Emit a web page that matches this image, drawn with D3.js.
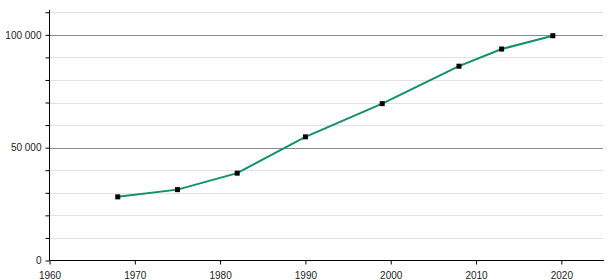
<!DOCTYPE html>
<html>
<head>
<meta charset="utf-8">
<script src="https://cdn.jsdelivr.net/npm/d3@7"></script>
<style>
  body { margin: 0; background: #fff; }
  text { font-family: "Liberation Sans", Arial, sans-serif; font-size: 10px; fill: #222; }
</style>
</head>
<body>
<div id="chart"></div>
<script>
// population figures
var years = [1968, 1975, 1982, 1990, 1999, 2008, 2013, 2019];
var population = [28200, 31400, 38700, 54800, 69500, 86100, 93700, 99600];
var xTicks = [1960, 1970, 1980, 1990, 2000, 2010, 2020];
var yLabelTicks = [0, 50000, 100000];
var yGridTicks = d3.range(10000, 110001, 10000);

var data = years.map(function(y, i) { return {year: y, pop: population[i]}; });

var W = 615, H = 280;
var plotLeft = 49.5, plotRight = 604, plotTop = 10, plotBottom = 260.5;

var svg = d3.select("#chart").append("svg")
  .attr("width", W)
  .attr("height", H);

var x = d3.scaleLinear().domain([1960, 2025]).range([plotLeft, plotRight]);
var y = d3.scaleLinear().domain([0, 111000]).range([plotBottom, plotTop]);

var fr = d3.formatLocale({decimal: ",", thousands: "\u00a0", grouping: [3], currency: ["", ""]});
var fmt = fr.format(",");

// grid lines
svg.append("g").selectAll("line")
  .data(yGridTicks)
  .enter().append("line")
  .attr("x1", plotLeft)
  .attr("x2", 603)
  .attr("y1", function(d) { return Math.round(y(d)) + 0.5; })
  .attr("y2", function(d) { return Math.round(y(d)) + 0.5; })
  .attr("stroke", function(d) { return d % 50000 === 0 ? "#8a8a8a" : "#e2e2e2"; })
  .attr("stroke-width", 1);

// y axis
var yAxis = d3.axisLeft(y)
  .tickValues(yGridTicks.concat([0]))
  .tickSize(4)
  .tickFormat(function(d) { return yLabelTicks.indexOf(d) >= 0 ? fmt(d) : ""; });

var gy = svg.append("g")
  .attr("transform", "translate(" + plotLeft + ",0)")
  .call(yAxis);
gy.select(".domain").attr("d", "M0," + plotTop + "V" + plotBottom).attr("stroke", "#000");
gy.selectAll(".tick line").attr("stroke", "#000");
gy.selectAll("text").attr("x", -8);
gy.attr("font-family", null).attr("font-size", null);

// x axis
var xAxis = d3.axisBottom(x)
  .tickValues(xTicks)
  .tickSize(4)
  .tickFormat(d3.format("d"));

var gx = svg.append("g")
  .attr("transform", "translate(0," + plotBottom + ")")
  .call(xAxis);
gx.select(".domain").attr("d", "M" + plotLeft + ",0H" + plotRight).attr("stroke", "#000");
gx.selectAll(".tick line").attr("stroke", "#000");
gx.selectAll("text").attr("y", 11);
gx.attr("font-family", null).attr("font-size", null);

// line
var line = d3.line()
  .x(function(d) { return x(d.year); })
  .y(function(d) { return y(d.pop); });

svg.append("path")
  .datum(data)
  .attr("d", line)
  .attr("fill", "none")
  .attr("stroke", "#11916a")
  .attr("stroke-width", 2);

// points
svg.append("g").selectAll("rect")
  .data(data)
  .enter().append("rect")
  .attr("x", function(d) { return x(d.year) - 2.5; })
  .attr("y", function(d) { return y(d.pop) - 2.5; })
  .attr("width", 5)
  .attr("height", 5)
  .attr("fill", "#000");
</script>
</body>
</html>
